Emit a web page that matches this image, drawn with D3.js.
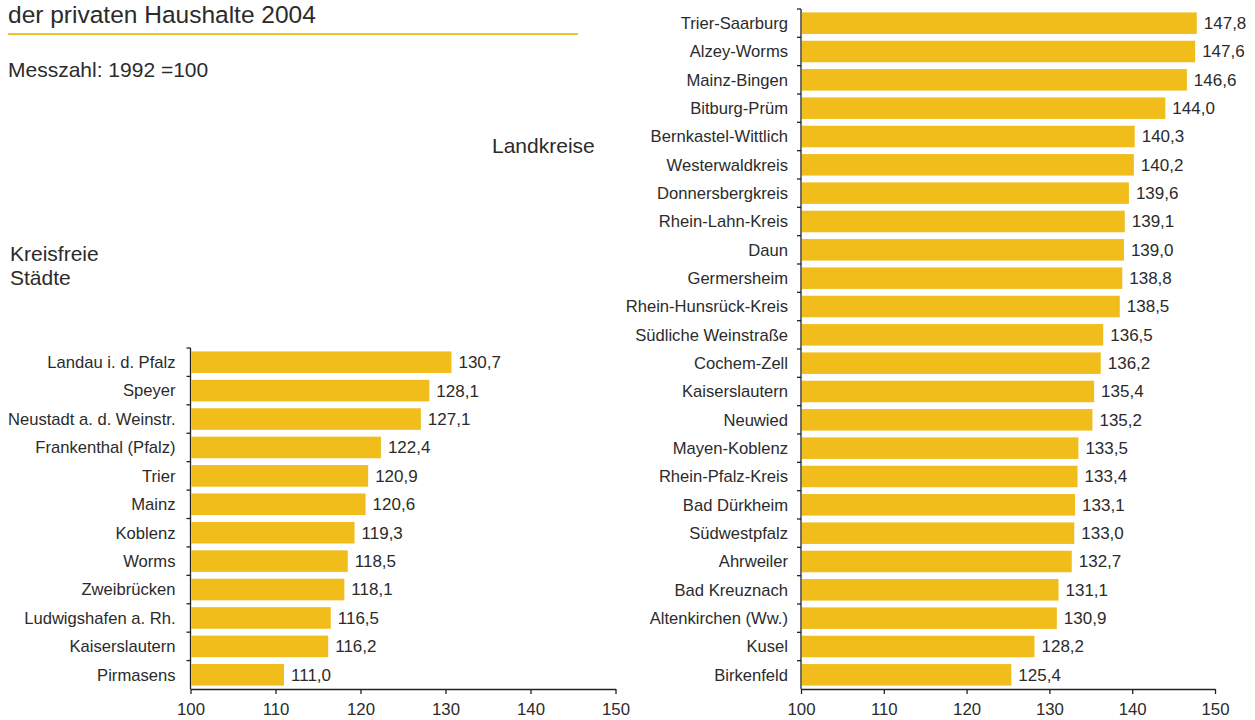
<!DOCTYPE html>
<html><head><meta charset="utf-8">
<script src="https://cdn.jsdelivr.net/npm/d3@7"></script>
<style>
body{margin:0;background:#fff;}
svg text{font-family:"Liberation Sans",Arial,Helvetica,sans-serif;fill:#2b2b2b;}
</style></head>
<body><svg id="c" width="1255" height="720"></svg>
<script>
const leftCategories = ["Landau i. d. Pfalz","Speyer","Neustadt a. d. Weinstr.","Frankenthal (Pfalz)","Trier","Mainz","Koblenz","Worms","Zweibrücken","Ludwigshafen a. Rh.","Kaiserslautern","Pirmasens"];
const leftValues = [130.7,128.1,127.1,122.4,120.9,120.6,119.3,118.5,118.1,116.5,116.2,111.0];
const rightCategories = ["Trier-Saarburg","Alzey-Worms","Mainz-Bingen","Bitburg-Prüm","Bernkastel-Wittlich","Westerwaldkreis","Donnersbergkreis","Rhein-Lahn-Kreis","Daun","Germersheim","Rhein-Hunsrück-Kreis","Südliche Weinstraße","Cochem-Zell","Kaiserslautern","Neuwied","Mayen-Koblenz","Rhein-Pfalz-Kreis","Bad Dürkheim","Südwestpfalz","Ahrweiler","Bad Kreuznach","Altenkirchen (Ww.)","Kusel","Birkenfeld"];
const rightValues = [147.8,147.6,146.6,144.0,140.3,140.2,139.6,139.1,139.0,138.8,138.5,136.5,136.2,135.4,135.2,133.5,133.4,133.1,133.0,132.7,131.1,130.9,128.2,125.4];
const xTicks = [100,110,120,130,140,150];
const titleText = "der privaten Haushalte 2004";
const subtitleText = "Messzahl: 1992 =100";
const leftGroupLabel = ["Kreisfreie","Städte"];
const rightGroupLabel = "Landkreise";

const svg = d3.select("#c");
const barColor = "#f0bd1b";
const axisColor = "#222";
const fmt = v => d3.format(".1f")(v).replace(".", ",");

// title area
svg.append("text").attr("x", 8).attr("y", 23).attr("font-size", 24.5).text(titleText);
svg.append("line").attr("x1", 8).attr("x2", 578).attr("y1", 34).attr("y2", 34)
  .attr("stroke", "#f2c12e").attr("stroke-width", 2);
svg.append("text").attr("x", 8).attr("y", 77).attr("font-size", 21).text(subtitleText);
svg.append("text").attr("x", 492).attr("y", 153).attr("font-size", 21).text(rightGroupLabel);
leftGroupLabel.forEach((t,i) => svg.append("text").attr("x", 10).attr("y", 261 + i*24).attr("font-size", 21).text(t));

function panel(cats, vals, x0, x1, y0, y1, labelGap) {
  const x = d3.scaleLinear().domain([100,150]).range([x0, x1]);
  const y = d3.scaleBand().domain(cats).range([y0, y1]).paddingInner(0.24).paddingOuter(0.12);
  const g = svg.append("g");
  g.selectAll("rect.bar").data(cats).join("rect")
    .attr("x", x(100) + 1)
    .attr("y", d => y(d))
    .attr("width", (d,i) => x(vals[i]) - x(100) - 1)
    .attr("height", y.bandwidth())
    .attr("fill", barColor);
  g.selectAll("text.val").data(cats).join("text")
    .attr("x", (d,i) => x(vals[i]) + 7)
    .attr("y", d => y(d) + y.bandwidth()/2)
    .attr("dy", "0.35em").attr("font-size", 17)
    .text((d,i) => fmt(vals[i]));
  g.selectAll("text.cat").data(cats).join("text")
    .attr("x", x(100) - labelGap)
    .attr("y", d => y(d) + y.bandwidth()/2)
    .attr("dy", "0.35em").attr("text-anchor", "end").attr("font-size", 16.6)
    .text(d => d);
  g.append("line").attr("x1", x(100)).attr("x2", x(100)).attr("y1", y0).attr("y2", y1)
    .attr("stroke", axisColor).attr("stroke-width", 1.3);
  const step = y.step();
  const bounds = d3.range(cats.length).map(i => y(cats[i]) - step*y.paddingInner()/2);
  g.selectAll("line.yt").data(bounds).join("line")
    .attr("x1", x(100) - 4).attr("x2", x(100)).attr("y1", d => d).attr("y2", d => d)
    .attr("stroke", axisColor).attr("stroke-width", 1.3);
  const ax = d3.axisBottom(x).tickValues(xTicks).tickSize(5).tickSizeOuter(0).tickPadding(9.5).tickFormat(d3.format("d"));
  const ga = g.append("g").attr("transform", `translate(0,${y1})`).call(ax);
  ga.select(".domain").attr("stroke", axisColor).attr("stroke-width", 1.3);
  ga.selectAll(".tick line").attr("stroke", axisColor).attr("stroke-width", 1.3);
  ga.selectAll(".tick text").attr("font-size", 16.8).attr("fill", "#2b2b2b")
    .attr("font-family", '"Liberation Sans",Arial,sans-serif');
}

panel(leftCategories, leftValues, 190.5, 615.5, 348, 689, 15);
panel(rightCategories, rightValues, 801, 1215, 9, 689, 13);
</script></body></html>
